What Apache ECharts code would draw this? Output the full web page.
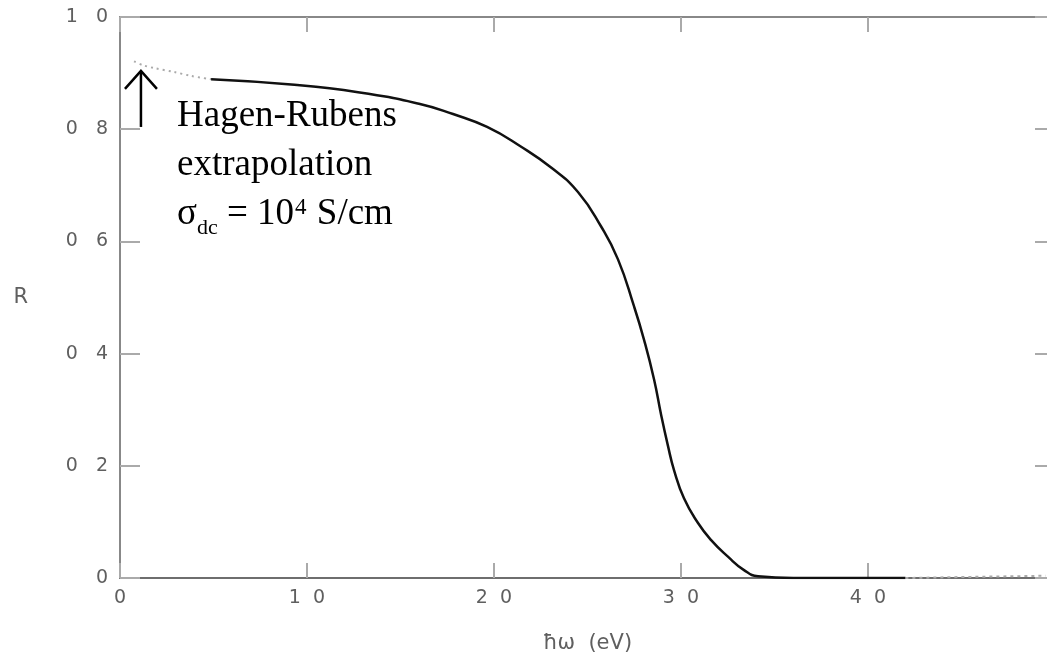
<!DOCTYPE html>
<html>
<head>
<meta charset="utf-8">
<script src="https://cdn.jsdelivr.net/npm/echarts@6/dist/echarts.min.js"></script>
<style>
  html, body { margin: 0; padding: 0; background: #fff; }
  #chart { width: 1047px; height: 659px; }
</style>
</head>
<body>
<div id="chart"></div>
<script>
// reflectivity R vs photon energy
const xTicks = [0, 1, 2, 3, 4, 5]
const xLabels = ['0', '1  0', '2  0', '3  0', '4  0', '']
const yLabels = ['0', '0   2', '0   4', '0   6', '0   8', '1   0']

// Hagen-Rubens extrapolation (dotted, low energy end)
const hagenRubens = [
  [0.075, 0.921], [0.123, 0.914], [0.182, 0.909], [0.289, 0.902], [0.38, 0.895], [0.487, 0.889]
]
// measured curve
const measured = [
  [0.487, 0.889], [0.898, 0.880], [1.273, 0.866], [1.604, 0.845], [1.781, 0.827],
  [1.963, 0.804], [2.139, 0.770], [2.316, 0.729], [2.449, 0.688], [2.572, 0.627],
  [2.663, 0.568], [2.749, 0.484], [2.802, 0.425], [2.856, 0.354], [2.893, 0.292],
  [2.930, 0.236], [2.963, 0.192], [3.016, 0.142], [3.091, 0.098], [3.160, 0.068],
  [3.251, 0.038], [3.337, 0.014], [3.412, 0.003], [3.6, 0.0], [4.2, 0.0]
]
// faint continuation on the right
const tail = [[4.2, 0.0], [4.55, 0.002], [4.95, 0.004]]

// arrow pointing at the extrapolated part (data coords)
const arrowAt = { x: 0.112, from: 0.804, to: 0.904 }

const chart = echarts.init(document.getElementById('chart'))

const tickFont = { color: '#5f5f5f', fontSize: 19, fontFamily: 'DejaVu Sans' }
const nameFont = { color: '#5f5f5f', fontSize: 21, fontFamily: 'DejaVu Sans' }

const option = {
  animation: false,
  grid: { left: 120, top: 17, right: -8, bottom: 81, outerBoundsMode: 'none' },
  xAxis: [
    {
      type: 'value', position: 'bottom', min: 0, max: 5, interval: 1,
      axisLine: { show: true, onZero: false, lineStyle: { color: '#6e6e6e', width: 2 } },
      axisTick: { show: true, inside: true, length: 15, lineStyle: { color: '#aaa', width: 2 } },
      axisLabel: Object.assign({
        margin: 11,
        formatter: v => xLabels[xTicks.indexOf(v)] || ''
      }, tickFont),
      splitLine: { show: false },
      name: 'ħω  (eV)', nameLocation: 'middle', nameGap: 55,
      nameTextStyle: nameFont
    },
    {
      type: 'value', position: 'top', min: 0, max: 5, interval: 1,
      axisLine: { show: true, onZero: false, lineStyle: { color: '#888', width: 2 } },
      axisTick: { show: true, inside: true, length: 15, lineStyle: { color: '#aaa', width: 2 } },
      axisLabel: { show: false },
      splitLine: { show: false }
    }
  ],
  yAxis: [
    {
      type: 'value', position: 'left', min: 0, max: 1, interval: 0.2,
      axisLine: { show: true, onZero: false, lineStyle: { color: '#888', width: 2 } },
      axisTick: { show: true, inside: true, length: 20, lineStyle: { color: '#aaa', width: 2 } },
      axisLabel: Object.assign({
        margin: 12,
        formatter: v => yLabels[Math.round(v * 5)]
      }, tickFont),
      splitLine: { show: false },
      name: 'R', nameLocation: 'middle', nameGap: 92, nameRotate: 0,
      nameTextStyle: nameFont
    },
    {
      type: 'value', position: 'right', min: 0, max: 1, interval: 0.2,
      axisLine: { show: true, onZero: false, lineStyle: { color: '#888', width: 2 } },
      axisTick: { show: true, inside: true, length: 20, lineStyle: { color: '#aaa', width: 2 } },
      axisLabel: { show: false },
      splitLine: { show: false }
    }
  ],
  series: [
    {
      type: 'line', data: hagenRubens, showSymbol: false, smooth: 0.3, silent: true,
      lineStyle: { color: '#aaa', width: 2, type: [2, 4] }
    },
    {
      type: 'line', data: measured, showSymbol: false, smooth: 0.5, silent: true,
      lineStyle: { color: '#111', width: 2.5 }
    },
    {
      type: 'line', data: tail, showSymbol: false, silent: true,
      lineStyle: { color: '#aaa', width: 2, type: [3, 4] }
    }
  ]
}
chart.setOption(option)

// annotation: arrow + text
const tip = chart.convertToPixel({ gridIndex: 0 }, [arrowAt.x, arrowAt.to])
const base = chart.convertToPixel({ gridIndex: 0 }, [arrowAt.x, arrowAt.from])
chart.setOption({
  graphic: [
    {
      type: 'line',
      shape: { x1: base[0], y1: base[1], x2: tip[0], y2: tip[1] + 1 },
      style: { stroke: '#000', lineWidth: 2.5 }
    },
    {
      type: 'polyline',
      shape: { points: [[tip[0] - 16, tip[1] + 18], [tip[0], tip[1]], [tip[0] + 16, tip[1] + 18]] },
      style: { stroke: '#000', lineWidth: 2.5, fill: null }
    },
    {
      type: 'text',
      x: 177, y: 92,
      style: {
        text: 'Hagen-Rubens\nextrapolation\n{s|σ}{sub|dc}{s| = 10}{sup|4}{s| S/cm}',
        fontFamily: 'Liberation Serif', fontSize: 37, lineHeight: 49,
        fill: '#000', verticalAlign: 'top', align: 'left',
        rich: {
          s: { fontFamily: 'Liberation Serif', fontSize: 37, lineHeight: 49, fill: '#000' },
          sub: { fontFamily: 'Liberation Serif', fontSize: 22, lineHeight: 22, verticalAlign: 'bottom', fill: '#000' },
          sup: { fontFamily: 'Liberation Serif', fontSize: 23, lineHeight: 23, verticalAlign: 'top', padding: [6, 1, 0, 1], fill: '#000' }
        }
      }
    }
  ]
})
</script>
</body>
</html>
